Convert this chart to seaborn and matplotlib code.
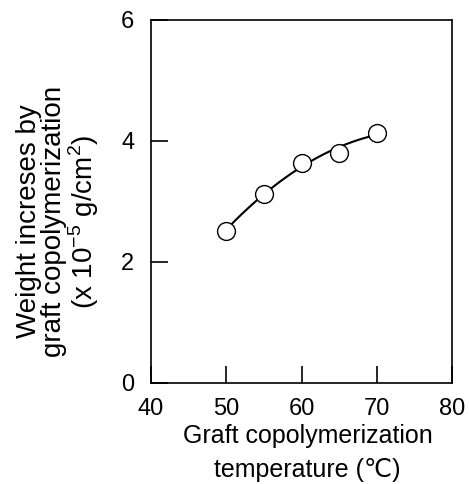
import matplotlib
matplotlib.use("Agg")
import matplotlib.pyplot as plt
import seaborn as sns
import pandas as pd
import numpy as np

temperature = [50, 55, 60, 65, 70]
weight_increase = [2.52, 3.13, 3.64, 3.80, 4.14]
x_ticks = [40, 50, 60, 70, 80]
y_ticks = [0, 2, 4, 6]

sns.set_theme(style="ticks")
plt.rcParams['font.family'] = ['Liberation Sans', 'DejaVu Sans']
plt.rcParams['mathtext.fontset'] = 'custom'
plt.rcParams['mathtext.rm'] = 'Liberation Sans'
plt.rcParams['text.color'] = 'black'
plt.rcParams['axes.labelcolor'] = 'black'
plt.rcParams['xtick.color'] = 'black'
plt.rcParams['ytick.color'] = 'black'

df = pd.DataFrame({"T": temperature, "W": weight_increase})

fig = plt.figure(figsize=(4.69, 4.84), dpi=100)
ax = fig.add_axes([0.322, 0.2087, 0.642, 0.75])

sns.regplot(data=df, x="T", y="W", order=2, ci=None, ax=ax, truncate=True,
            scatter=False, line_kws=dict(color="black", lw=1.5))
sns.scatterplot(data=df, x="T", y="W", ax=ax, s=165, marker="o",
                facecolor="white", edgecolor="black", linewidth=1.0, zorder=5)

ax.set_xlim(40, 80)
ax.set_ylim(0, 6)
ax.set_xticks(x_ticks)
ax.set_yticks(y_ticks)
ax.tick_params(direction="in", length=12, width=1.2, labelsize=17, color="black")
ax.tick_params(axis="x", pad=11)
ax.tick_params(axis="y", pad=12)
for s in ax.spines.values():
    s.set_linewidth(1.2)
    s.set_color("black")

ax.set_xlabel("Graft copolymerization\ntemperature (\u2103)", fontsize=18, linespacing=1.55)
ax.set_ylabel("Weight increses by\ngraft copolymerization\n(x 10$^{-5}$ g/cm$^{2}$)",
              fontsize=20, linespacing=0.98)
ax.xaxis.set_label_coords(0.52, -0.112)
ax.yaxis.set_label_coords(-0.165, 0.445)

fig.savefig("out.png", dpi=100)
